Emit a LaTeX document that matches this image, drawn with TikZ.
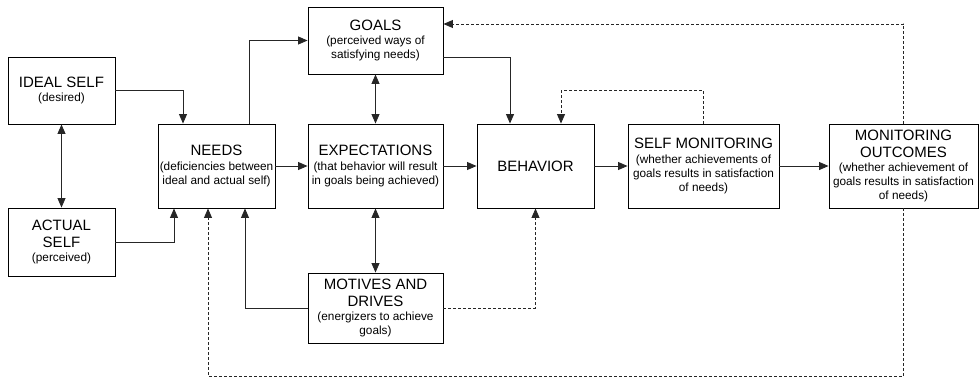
\documentclass[tikz,border=0pt]{standalone}
\usepackage{fontspec}
\setmainfont{Liberation Sans}
\usetikzlibrary{arrows.meta}
\newcommand{\ttlfont}{\fontsize{15}{18}\selectfont}
\newcommand{\subfont}{\fontsize{11.8}{14}\selectfont}
\begin{document}
\begin{tikzpicture}[x=1pt,y=-1pt,
  box/.style={draw=black, line width=0.9pt, align=center, inner sep=0pt, font=\subfont},
  conn/.style={line width=0.9pt, draw=black!85, -{Triangle[length=9.5pt,width=8pt]}},
  biconn/.style={line width=0.9pt, draw=black!85, {Triangle[length=9.5pt,width=8pt]}-{Triangle[length=9.5pt,width=8pt]}},
  dconn/.style={conn, dash pattern=on 3pt off 2pt}]
\useasboundingbox (0,0) rectangle (979,378);

% boxes
\node[box, minimum width=107pt, minimum height=67pt] (ideal) at (61.5,90.5)
  {{\ttlfont IDEAL SELF}\\[0.6pt](desired)};
\node[box, minimum width=107pt, minimum height=68pt] (actual) at (61.5,242)
  {{\ttlfont ACTUAL}\\[3pt]{\ttlfont SELF}\\[0.6pt](perceived)};
\node[box, minimum width=117pt, minimum height=84pt] (needs) at (216.5,166)
  {{\ttlfont NEEDS}\\[0.6pt](deficiencies between\\ideal and actual self)};
\node[box, minimum width=135pt, minimum height=67pt] (goals) at (375.5,40.5)
  {{\ttlfont GOALS}\\[0.6pt](perceived ways of\\satisfying needs)};
\node[box, minimum width=135pt, minimum height=84pt] (expect) at (375.5,166)
  {{\ttlfont EXPECTATIONS}\\[0.6pt](that behavior will result\\in goals being achieved)};
\node[box, minimum width=117pt, minimum height=84pt] (behavior) at (535.5,166)
  {{\ttlfont BEHAVIOR}};
\node[box, minimum width=135pt, minimum height=70pt] (motives) at (375.5,308)
  {{\ttlfont MOTIVES AND}\\[3pt]{\ttlfont DRIVES}\\[0.6pt](energizers to achieve\\goals)};
\node[box, minimum width=151pt, minimum height=84pt] (selfmon) at (703.5,166)
  {{\ttlfont SELF MONITORING}\\[0.6pt](whether achievements of\\goals results in satisfaction\\of needs)};
\node[box, minimum width=149pt, minimum height=84pt] (outcomes) at (903.5,166)
  {{\ttlfont MONITORING}\\[3pt]{\ttlfont OUTCOMES}\\[0.6pt](whether achievement of\\goals results in satisfaction\\of needs)};

% solid connectors
\draw[biconn] (ideal.south) -- (actual.north);
\draw[conn] (ideal.east) -| ([xshift=-33.5pt]needs.north);
\draw[conn] (actual.east) -| ([xshift=-42.5pt]needs.south);
\draw[conn] ([xshift=32.5pt]needs.north) |- (goals.west);
\draw[conn] (needs.east) -- (expect.west);
\draw[conn] (motives.west) -| ([xshift=28.5pt]needs.south);
\draw[biconn] (goals.south) -- (expect.north);
\draw[biconn] (expect.south) -- (motives.north);
\draw[conn] ([yshift=-16.5pt]goals.east) -| ([xshift=-25.5pt]behavior.north);
\draw[conn] (expect.east) -- (behavior.west);
\draw[conn] (behavior.east) -- (selfmon.west);
\draw[conn] (selfmon.east) -- (outcomes.west);

% dashed feedback connectors
\coordinate (smtop) at ([yshift=33pt]selfmon.north);
\draw[dconn] (selfmon.north) -- (smtop) -| ([xshift=25.5pt]behavior.north);
\draw[dconn] (motives.east) -| (behavior.south);
\coordinate (outtop) at ([yshift=100pt]outcomes.north);
\draw[dconn] (outcomes.north) -- (outtop) |- ([yshift=16.5pt]goals.east);
\coordinate (outbot) at ([yshift=-168pt]outcomes.south);
\draw[dconn] (outcomes.south) -- (outbot) -| ([xshift=-8.5pt]needs.south);
\end{tikzpicture}
\end{document}
